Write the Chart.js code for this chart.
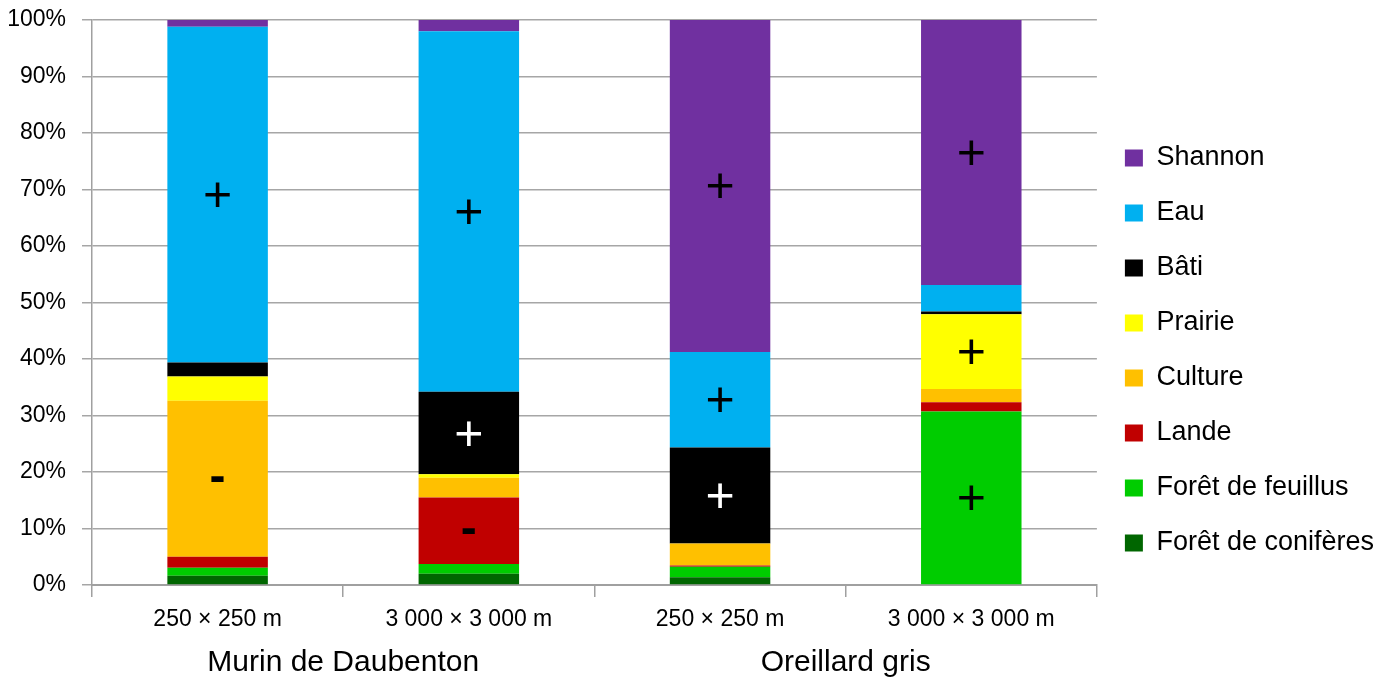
<!DOCTYPE html>
<html>
<head>
<meta charset="utf-8">
<script src="https://cdn.jsdelivr.net/npm/chart.js@4.4.1/dist/chart.umd.min.js"></script>
<style>
  html, body { margin: 0; padding: 0; background: #fff; }
  #wrap { width: 1394px; height: 681px; }
</style>
</head>
<body>
<div id="wrap"><canvas id="landChart"></canvas></div>
<script>
// Categories and groups
const categories = ['250 × 250 m', '3 000 × 3 000 m', '250 × 250 m', '3 000 × 3 000 m'];
const groups = ['Murin de Daubenton', 'Oreillard gris'];
const yTicks = [0, 10, 20, 30, 40, 50, 60, 70, 80, 90, 100];

// Series values (%)
const coniferes = [1.65, 2.0, 1.35, 0];
const feuillus = [1.4, 1.7, 1.9, 30.7];
const lande = [1.95, 11.8, 0.2, 1.65];
const culture = [27.6, 3.5, 3.9, 2.35];
const prairie = [4.3, 0.6, 0, 13.2];
const bati = [2.5, 14.6, 17.0, 0.5];
const eau = [59.4, 63.8, 16.9, 4.7];
const shannon = [1.2, 2.0, 58.75, 46.9];

// Signs written in the segments
const coniferesSigns = ['', '', '', ''];
const feuillusSigns = ['', '', '', '+'];
const landeSigns = ['', '-', '', ''];
const cultureSigns = ['-', '', '', ''];
const prairieSigns = ['', '', '', '+'];
const batiSigns = ['', '+', '+', ''];
const eauSigns = ['+', '+', '+', ''];
const shannonSigns = ['', '', '+', '+'];

const FONT = "'Liberation Sans', Arial, sans-serif";

// draws the +/- marks in the middle of each segment
const signsPlugin = {
    id: 'signs',
    afterDatasetsDraw(chart) {
        const ctx = chart.ctx;
        chart.data.datasets.forEach((ds, i) => {
            const meta = chart.getDatasetMeta(i);
            meta.data.forEach((bar, j) => {
                const s = ds.signs[j];
                if (!s) return;
                const cy = (bar.y + bar.base) / 2;
                ctx.save();
                ctx.fillStyle = ds.signColor;
                ctx.font = s === '+' ? `50px ${FONT}` : `bold 48px ${FONT}`;
                ctx.textAlign = 'center';
                ctx.textBaseline = 'alphabetic';
                const m = ctx.measureText(s);
                const off = (m.actualBoundingBoxAscent - m.actualBoundingBoxDescent) / 2;
                ctx.fillText(s, bar.x, cy + off);
                ctx.restore();
            });
        });
    }
};

// second level of the x axis
const groupLabels = {
    id: 'groupLabels',
    afterDraw(chart) {
        const ctx = chart.ctx;
        const x = chart.scales.x;
        ctx.save();
        ctx.fillStyle = '#000';
        ctx.font = `30px ${FONT}`;
        ctx.textAlign = 'center';
        ctx.textBaseline = 'middle';
        groups.forEach((g, k) => {
            const cx = (x.getPixelForTick(2 * k) + x.getPixelForTick(2 * k + 1)) / 2;
            ctx.fillText(g, cx, 663);
        });
        ctx.restore();
    }
};

const ctx = document.getElementById('landChart').getContext('2d');
const myChart = new Chart(ctx, {
    type: 'bar',
    data: {
        labels: categories,
        datasets: [
            { label: 'Forêt de conifères', data: coniferes, backgroundColor: '#006600', signs: coniferesSigns, signColor: '#000' },
            { label: 'Forêt de feuillus', data: feuillus, backgroundColor: '#00CC00', signs: feuillusSigns, signColor: '#000' },
            { label: 'Lande', data: lande, backgroundColor: '#C00000', signs: landeSigns, signColor: '#000' },
            { label: 'Culture', data: culture, backgroundColor: '#FFC000', signs: cultureSigns, signColor: '#000' },
            { label: 'Prairie', data: prairie, backgroundColor: '#FFFF00', signs: prairieSigns, signColor: '#000' },
            { label: 'Bâti', data: bati, backgroundColor: '#000000', signs: batiSigns, signColor: '#fff' },
            { label: 'Eau', data: eau, backgroundColor: '#00B0F0', signs: eauSigns, signColor: '#000' },
            { label: 'Shannon', data: shannon, backgroundColor: '#7030A0', signs: shannonSigns, signColor: '#000' }
        ]
    },
    options: {
        responsive: true,
        maintainAspectRatio: false,
        animation: false,
        layout: { padding: { top: 20, left: 0, right: 10, bottom: 0 } },
        datasets: {
            bar: { barPercentage: 0.4, categoryPercentage: 1.0, borderWidth: 0 }
        },
        plugins: {
            tooltip: { enabled: false },
            legend: {
                position: 'right',
                reverse: true,
                labels: {
                    color: '#000',
                    font: { family: FONT, size: 27 },
                    boxWidth: 18,
                    boxHeight: 17,
                    padding: 28
                }
            }
        },
        scales: {
            x: {
                stacked: true,
                grid: {
                    offset: true,
                    drawOnChartArea: false,
                    color: '#a0a0a0',
                    lineWidth: 1.5,
                    tickLength: 12
                },
                border: { color: '#a0a0a0', width: 2 },
                ticks: {
                    color: '#000',
                    font: { family: FONT, size: 23 },
                    padding: 9,
                    maxRotation: 0
                },
                afterFit(scale) { scale.height = 96; }
            },
            y: {
                stacked: true,
                min: 0,
                max: 100,
                afterBuildTicks(scale) { scale.ticks = yTicks.map(v => ({ value: v })); },
                grid: {
                    color: '#a6a6a6',
                    lineWidth: 1.5,
                    tickLength: 10
                },
                border: { color: '#a0a0a0', width: 1.5 },
                ticks: {
                    color: '#000',
                    font: { family: FONT, size: 23 },
                    padding: 16,
                    callback: v => v + '%'
                },
                afterFit(scale) {
                    scale.width = 92;
                    scale.paddingTop = 0;
                    scale.paddingBottom = 0;
                }
            }
        }
    },
    plugins: [signsPlugin, groupLabels]
});
</script>
</body>
</html>
